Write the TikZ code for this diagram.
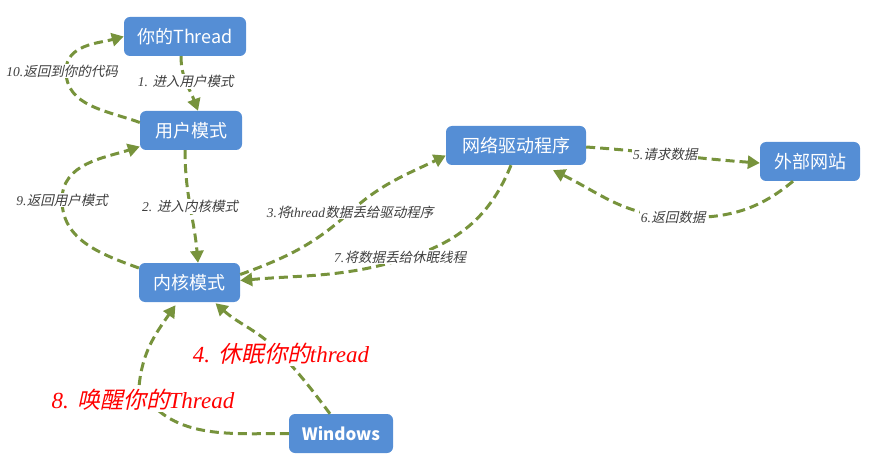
\documentclass[tikz,border=0pt]{standalone}
\usepackage{fontspec}
\setmainfont{Liberation Serif}
\newfontfamily\cjkfont{Noto Sans CJK SC}
\usetikzlibrary{arrows.meta}
\definecolor{boxblue}{HTML}{558ED5}
\definecolor{flowgreen}{HTML}{77933C}
\definecolor{labgray}{HTML}{3F3F3F}
% Latin and Chinese parts of the slanted step labels
\newcommand\lat[1]{{\rmfamily\itshape #1}}
\newcommand\han[1]{\rlap{\tikz[baseline=0pt]\node[anchor=base west, inner sep=0pt,
  outer sep=0pt, xslant=0.22, transform shape]{\cjkfont #1};}\phantom{\cjkfont #1}}

\begin{document}
\begin{tikzpicture}[x=1pt,y=1pt,
  box/.style={fill=boxblue, rounded corners=6pt, text=white, inner sep=0pt,
    minimum height=39pt, font=\cjkfont\fontsize{18}{20}\selectfont},
  flow/.style={draw=flowgreen, line width=3pt, dash pattern=on 9pt off 5pt,
    -{Triangle[length=12pt,width=13pt]}},
  steplabel/.style={fill=white, inner sep=1pt, text=labgray,
    font=\fontsize{13.5}{15}\selectfont},
  redlabel/.style={fill=white, inner sep=1pt, text=red,
    font=\fontsize{23}{25}\selectfont}]
\useasboundingbox (0,0) rectangle (877,469);

% states
\node[box, minimum width=122pt] (thread) at (185,432.5) {你的Thread};
\node[box, minimum width=102pt] (user)   at (191,338.5) {用户模式};
\node[box, minimum width=101pt] (kernel) at (189.5,186.5) {内核模式};
\node[box, minimum width=140pt] (driver) at (516,323.5) {网络驱动程序};
\node[box, minimum width=100pt] (site)   at (810,307.5) {外部网站};
\node[box, minimum width=104pt, font=\cjkfont\bfseries\fontsize{17}{20}\selectfont]
  (win) at (341,35.5) {Windows};

% bends of the curved connectors
\coordinate (w10) at (66,398);
\coordinate (w9)  at (62,269);
\coordinate (w3)  at (350,257);
\coordinate (w7)  at (410,212);
\coordinate (w6)  at (673,252);
\coordinate (w4)  at (281,115);
\coordinate (w8)  at (139,82);

% steps
\draw[flow] ([xshift=-4pt]thread.south) to[out=-90,in=110]
  node[steplabel,pos=0.45]{\lat{1.} \han{进入用户模式}} ([xshift=7pt]user.north);
\draw[flow] ([xshift=-6pt]user.south) to[out=-90,in=95]
  node[steplabel,pos=0.5]{\lat{2.} \han{进入内核模式}} ([xshift=8.5pt]kernel.north);
\draw[flow] ([yshift=8pt]kernel.east) to[out=20,in=222] (w3)
  node[steplabel]{\lat{3.}\han{将}\lat{thread}\han{数据丢给驱动程序}}
  to[out=42,in=206] ([yshift=-10pt]driver.west);
\draw[flow] ([xshift=-11pt]win.north) to[out=127,in=-47] (w4)
  node[redlabel]{\lat{4.} \han{休眠你的}\lat{thread}}
  to[out=133,in=-42] ([xshift=26pt,yshift=-1pt]kernel.south);
\draw[flow] ([yshift=-1.5pt]driver.east) to[out=-4,in=176]
  node[steplabel,pos=0.45]{\lat{5.}\han{请求数据}} ([yshift=-1.5pt]site.west);
\draw[flow] ([xshift=-17pt]site.south) to[out=-140,in=-3] (w6)
  node[steplabel]{\lat{6.}\han{返回数据}}
  to[out=177,in=-26] ([xshift=37pt,yshift=-5pt]driver.south);
\draw[flow] ([xshift=-5pt]driver.south) to[out=-112,in=18] (w7)
  node[steplabel,xshift=-10pt]{\lat{7.}\han{将数据丢给休眠线程}}
  to[out=198,in=5] ([yshift=2pt]kernel.east);
\draw[flow] (win.west) to[out=180,in=-60] (w8)
  to[out=85,in=-125] ([xshift=-14pt,yshift=-3pt]kernel.south);
\node[redlabel] (l8) at (143,69) {\lat{8.} \han{唤醒你的}\lat{Thread}};
\draw[flow] ([yshift=14.5pt]kernel.west) to[out=160,in=-90] (w9)
  node[steplabel]{\lat{9.}\han{返回用户模式}}
  to[out=90,in=198] ([yshift=-16pt]user.west);
\draw[flow] ([yshift=8pt]user.west) to[out=160,in=-90] (w10)
  node[steplabel,xshift=-4pt]{\lat{10.}\han{返回到你的代码}}
  to[out=90,in=195] (thread.west);
\end{tikzpicture}
\end{document}
